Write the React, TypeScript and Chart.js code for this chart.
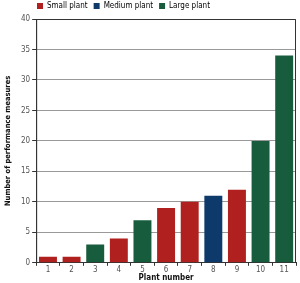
import React, { useEffect, useRef } from "react";
import { Chart, registerables } from "chart.js";

Chart.register(...registerables);

const plants = ["1", "2", "3", "4", "5", "6", "7", "8", "9", "10", "11"];
const measures = [1, 1, 3, 4, 7, 9, 10, 11, 12, 20, 34];
const sizes = ["S", "S", "L", "S", "L", "S", "S", "M", "S", "L", "L"];
const legendLabels = ["Small plant", "Medium plant", "Large plant"];
const legendKeys = ["S", "M", "L"];
const colorMap: Record<string, string> = { S: "#b0201f", M: "#0e3a6b", L: "#175c3c" };

const FONT = "'DejaVu Sans Condensed'";

const framePlugin = {
  id: "frame",
  afterLayout(chart: any) {
    const lg = chart.legend;
    if (lg) {
      lg.left += 27;
      lg.right += 27;
      lg.top += 1;
      lg.bottom += 1;
    }
  },
  afterDatasetsDraw(chart: any) {
    const { ctx, chartArea } = chart;
    ctx.save();
    ctx.strokeStyle = "#333";
    ctx.lineWidth = 1;
    ctx.beginPath();
    ctx.moveTo(chartArea.left + 0.5, chartArea.bottom);
    ctx.lineTo(chartArea.left + 0.5, chartArea.top + 0.5);
    ctx.lineTo(chartArea.right - 0.5, chartArea.top + 0.5);
    ctx.lineTo(chartArea.right - 0.5, chartArea.bottom);
    ctx.stroke();
    ctx.restore();
  },
};

export default function App() {
  const ref = useRef<HTMLCanvasElement>(null);
  useEffect(() => {
    const chart = new Chart(ref.current!, {
      type: "bar",
      data: {
        labels: plants,
        datasets: [
          {
            data: measures,
            backgroundColor: sizes.map((s) => colorMap[s]),
            barPercentage: 0.76,
            categoryPercentage: 1,
          },
        ],
      },
      plugins: [framePlugin],
      options: {
        animation: false,
        responsive: false,
        layout: { padding: { left: 4, right: 4, top: -5, bottom: 0 } },
        plugins: {
          tooltip: { enabled: false },
          legend: {
            display: true,
            position: "top",
            align: "start",
            labels: {
              boxWidth: 6,
              boxHeight: 6,
              padding: 6,
              color: "#555",
              font: { family: FONT, size: 8 },
              generateLabels: () =>
                legendKeys.map((k, i) => ({
                  text: legendLabels[i],
                  fillStyle: colorMap[k],
                  strokeStyle: colorMap[k],
                  lineWidth: 0,
                  hidden: false,
                  datasetIndex: 0,
                })),
            },
            onClick: () => {},
          },
        },
        scales: {
          x: {
            grid: {
              display: true,
              drawOnChartArea: false,
              drawTicks: true,
              tickLength: 3,
              color: "#333",
              offset: true,
            },
            border: { color: "#333" },
            ticks: { color: "#555", font: { family: FONT, size: 8 }, padding: -1 },
            title: {
              display: true,
              text: "Plant number",
              color: "#111",
              font: { family: FONT, size: 8, weight: "bold" },
              padding: { top: 0, bottom: 0 },
            },
          },
          y: {
            min: 0,
            max: 40,
            ticks: { stepSize: 5, color: "#555", font: { family: FONT, size: 8 }, padding: 2 },
            grid: { color: "#999", tickLength: 4, tickColor: "#333" },
            border: { color: "#333" },
            title: {
              display: true,
              text: "Number of performance measures",
              color: "#111",
              font: { family: FONT, size: 7.5, weight: "bold" },
              padding: { top: 0, bottom: 6 },
            },
          },
        },
      },
    } as any);
    return () => chart.destroy();
  }, []);
  return (
    <div style={{ position: "fixed", left: 0, top: 0, width: 300, height: 283 }}>
      <canvas ref={ref} width={300} height={283} />
    </div>
  );
}
